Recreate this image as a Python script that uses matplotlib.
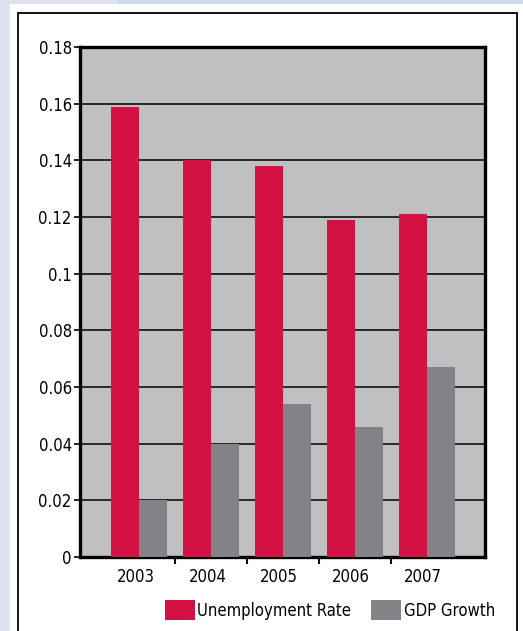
import matplotlib
matplotlib.use("Agg")
import matplotlib.pyplot as plt
from matplotlib.patches import Rectangle, Patch
import numpy as np

plt.rcParams['font.family'] = ['DejaVu Sans']
plt.rcParams['font.stretch'] = 'condensed'

years = ["2003", "2004", "2005", "2006", "2007"]
unemployment = [0.159, 0.140, 0.138, 0.119, 0.121]
gdp_growth = [0.020, 0.040, 0.054, 0.046, 0.067]
yticks = [0, 0.02, 0.04, 0.06, 0.08, 0.1, 0.12, 0.14, 0.16, 0.18]
ytick_labels = ["0", "0.02", "0.04", "0.06", "0.08", "0.1", "0.12", "0.14", "0.16", "0.18"]

W, H = 523, 631
fig = plt.figure(figsize=(W / 100, H / 100), dpi=100)
fig.patch.set_facecolor("white")

def frect(x0, y0, x1, y1, **kw):
    # pixel coords (top-left origin) -> figure coords
    r = Rectangle((x0 / W, 1 - y1 / H), (x1 - x0) / W, (y1 - y0) / H,
                  transform=fig.transFigure, **kw)
    fig.patches.append(r)

# background bands
frect(0, 0, 10, H, facecolor="#dde3ee", edgecolor="none")
frect(0, 0, 118, 4, facecolor="#dde3ee", edgecolor="none")
frect(118, 0, W, 4, facecolor="#cdd8e9", edgecolor="none")
# panel border
frect(18, 13, 517, H + 10, facecolor="none", edgecolor="black", linewidth=1.3)

ax = fig.add_axes([80 / W, (H - 557) / H, 405 / W, 510 / H])
ax.set_facecolor("#c0c0c2")

x = np.arange(len(years))
bw = 0.39
ax.bar(x - bw / 2, unemployment, width=bw, color="#d31243", zorder=3)
ax.bar(x + bw / 2, gdp_growth, width=bw, color="#838387", zorder=3)

ax.set_ylim(0, 0.18)
ax.set_xlim(-0.82, 4.81)
ax.set_yticks(yticks)
ax.set_yticklabels(ytick_labels)
for y in yticks[1:-1]:
    ax.axhline(y, color="black", linewidth=1.1, zorder=2)

ax.set_xticks(x - 0.05)
ax.set_xticklabels(years)
ax.tick_params(axis="x", which="major", length=0, pad=8, labelsize=12)
ax.set_xticks(x[:-1] + 0.5, minor=True)
ax.tick_params(axis="x", which="minor", length=5, width=1.5, direction="out")
ax.tick_params(axis="y", length=4, width=1.2, pad=2, labelsize=12)

for s in ax.spines.values():
    s.set_linewidth(2.4)
    s.set_color("black")

handles = [Patch(facecolor="#d31243", label="Unemployment Rate"),
           Patch(facecolor="#838387", label="GDP Growth")]
fig.legend(handles=handles, loc="center", bbox_to_anchor=(330 / W, 1 - 610 / H),
           ncol=2, frameon=False, fontsize=12, handlelength=1.8, handleheight=1.4,
           handletextpad=0.15, columnspacing=1.2, borderpad=0)

fig.savefig("out.png", dpi=100, facecolor=fig.get_facecolor())
